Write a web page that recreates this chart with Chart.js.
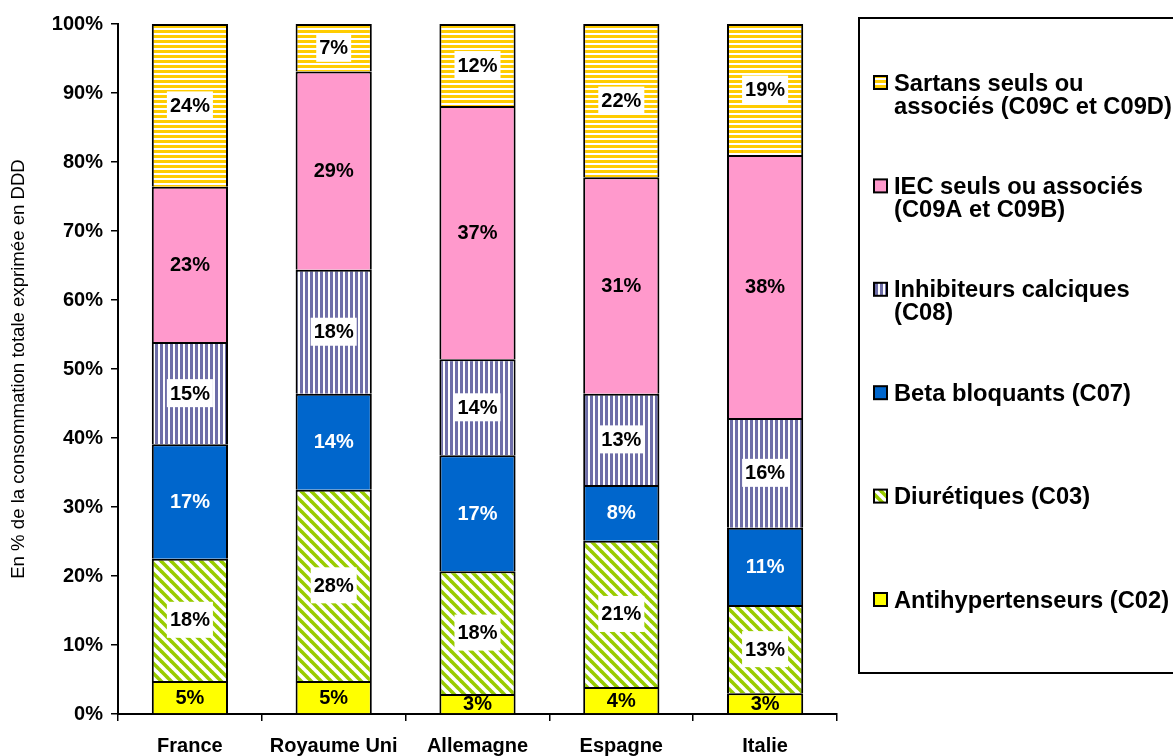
<!DOCTYPE html>
<html>
<head>
<meta charset="utf-8">
<script src="https://cdn.jsdelivr.net/npm/chart.js@4/dist/chart.umd.min.js"></script>
<style>
  html, body { margin: 0; padding: 0; background: #fff; overflow: hidden; }
  #chart { display: block; }
</style>
</head>
<body>
<canvas id="chart" width="1173" height="756"></canvas>
<script>
// Data (% of total DDD consumption)
const countries = ['France', 'Royaume Uni', 'Allemagne', 'Espagne', 'Italie'];
const antihypertenseurs = [4.8, 4.8, 2.9, 3.9, 3.0];
const diuretiques = [17.7, 27.7, 17.8, 21.2, 12.8];
const betaBloquants = [16.6, 13.9, 16.8, 8.1, 11.2];
const inhibiteursCalciques = [14.8, 18.0, 13.9, 13.2, 15.9];
const iec = [22.5, 28.7, 36.7, 31.4, 38.1];
const sartans = [23.6, 6.9, 11.9, 22.2, 19.0];

const yTicks = [0, 10, 20, 30, 40, 50, 60, 70, 80, 90, 100];
const yTitle = 'En % de la consommation totale exprimée en DDD';

// legend text, top to bottom, with its line breaks
const legendLines = [
  ['Sartans seuls ou', 'associés (C09C et C09D)'],
  ['IEC seuls ou associés', '(C09A et C09B)'],
  ['Inhibiteurs calciques', '(C08)'],
  ['Beta bloquants (C07)'],
  ['Diurétiques (C03)'],
  ['Antihypertenseurs (C02)']
];

const FONT = "'Liberation Sans', Arial, sans-serif";

// striped fills
function stripePattern(kind, color) {
  const c = document.createElement('canvas');
  const g = c.getContext('2d');
  if (kind === 'h') {
    c.width = 5; c.height = 5;
    g.fillStyle = '#fff'; g.fillRect(0, 0, 5, 5);
    g.fillStyle = color; g.fillRect(0, 0, 5, 3);
  } else if (kind === 'v') {
    c.width = 5; c.height = 5;
    g.fillStyle = '#fff'; g.fillRect(0, 0, 5, 5);
    g.fillStyle = color; g.fillRect(0, 0, 3, 5);
  } else {
    c.width = 10; c.height = 10;
    g.fillStyle = '#fff'; g.fillRect(0, 0, 10, 10);
    g.strokeStyle = color;
    g.lineWidth = 3.6;
    for (const off of [-10, 0, 10]) {
      g.beginPath();
      g.moveTo(off - 1, -1);
      g.lineTo(off + 11, 11);
      g.stroke();
    }
  }
  return g.createPattern(c, 'repeat');
}

const fills = {
  antihyp: '#FFFF00',
  diur: stripePattern('d', '#99CC00'),
  beta: '#0066CC',
  inhib: stripePattern('v', '#6E6EA8'),
  iec: '#FF99CC',
  sartans: stripePattern('h', '#FFCC00')
};

function makeSet(label, data, fill, textColor, boxed) {
  return {
    label, data,
    backgroundColor: fill,
    borderColor: '#000',
    borderWidth: 2,
    barPercentage: 0.53,
    categoryPercentage: 1,
    textColor, boxed
  };
}

const datasets = [
  makeSet('Antihypertenseurs (C02)', antihypertenseurs, fills.antihyp, '#000', false),
  makeSet('Diurétiques (C03)', diuretiques, fills.diur, '#000', true),
  makeSet('Beta bloquants (C07)', betaBloquants, fills.beta, '#fff', false),
  makeSet('Inhibiteurs calciques (C08)', inhibiteursCalciques, fills.inhib, '#000', true),
  makeSet('IEC seuls ou associés (C09A et C09B)', iec, fills.iec, '#000', false),
  makeSet('Sartans seuls ou associés (C09C et C09D)', sartans, fills.sartans, '#000', true)
];

// percentage in the middle of every segment
const segmentLabels = {
  id: 'segmentLabels',
  afterDatasetsDraw(chart) {
    const ctx = chart.ctx;
    ctx.save();
    ctx.font = `bold 20px ${FONT}`;
    ctx.textAlign = 'center';
    ctx.textBaseline = 'middle';
    chart.data.datasets.forEach((ds, i) => {
      chart.getDatasetMeta(i).data.forEach((bar, j) => {
        const txt = Math.round(ds.data[j]) + '%';
        const cy = (bar.y + bar.base) / 2;
        if (ds.boxed) {
          const w = ctx.measureText(txt).width + 6;
          const h = i === 1 ? 36 : 28;
          ctx.fillStyle = '#fff';
          ctx.fillRect(bar.x - w / 2, cy - h / 2, w, h);
        }
        ctx.fillStyle = ds.textColor;
        ctx.fillText(txt, bar.x, cy + 1);
      });
    });
    ctx.restore();
  }
};

// boxed legend on the right, top entry = top of the stack
const sideLegend = {
  id: 'sideLegend',
  afterDraw(chart) {
    const ctx = chart.ctx;
    ctx.save();
    ctx.lineWidth = 2;
    ctx.strokeStyle = '#000';
    ctx.strokeRect(859, 18, 340, 655);

    ctx.font = `bold 23.7px ${FONT}`;
    ctx.textAlign = 'left';
    ctx.textBaseline = 'middle';
    const sets = chart.data.datasets.slice().reverse();
    sets.forEach((ds, k) => {
      const y = 84 + k * 103.4;
      ctx.fillStyle = ds.backgroundColor;
      ctx.fillRect(874, y - 8, 13, 13);
      ctx.lineWidth = 2;
      ctx.strokeRect(874, y - 8, 13, 13);
      ctx.fillStyle = '#000';
      legendLines[k].forEach((line, n) => {
        ctx.fillText(line, 894, y + n * 23);
      });
    });
    ctx.restore();
  }
};

const chart = new Chart(document.getElementById('chart'), {
  type: 'bar',
  data: { labels: countries, datasets },
  options: {
    responsive: false,
    animation: false,
    layout: { padding: { top: 24, right: 336, left: 0, bottom: 0 } },
    plugins: {
      legend: { display: false },
      tooltip: { enabled: false }
    },
    scales: {
      x: {
        stacked: true,
        offset: true,
        grid: { offset: true, drawOnChartArea: false, tickLength: 7, color: '#000', lineWidth: 1.5 },
        border: { color: '#000', width: 2 },
        ticks: { color: '#000', font: { family: FONT, size: 20, weight: 'bold' }, padding: 13, maxRotation: 0 },
        afterFit(scale) { scale.height = 42; }
      },
      y: {
        stacked: true,
        min: 0,
        max: 100,
        afterBuildTicks(scale) { scale.ticks = yTicks.map(v => ({ value: v })); },
        grid: { drawOnChartArea: false, tickLength: 7, color: '#000', lineWidth: 1.5 },
        border: { color: '#000', width: 2 },
        ticks: {
          color: '#000',
          padding: 8,
          font: { family: FONT, size: 20, weight: 'bold' },
          callback: v => v + '%'
        },
        title: {
          display: true,
          text: yTitle,
          color: '#000',
          font: { family: FONT, size: 18.6 },
          padding: { top: 8, bottom: 0 }
        },
        afterFit(scale) { scale.width = 118; }
      }
    }
  },
  plugins: [segmentLabels, sideLegend]
});
</script>
</body>
</html>
